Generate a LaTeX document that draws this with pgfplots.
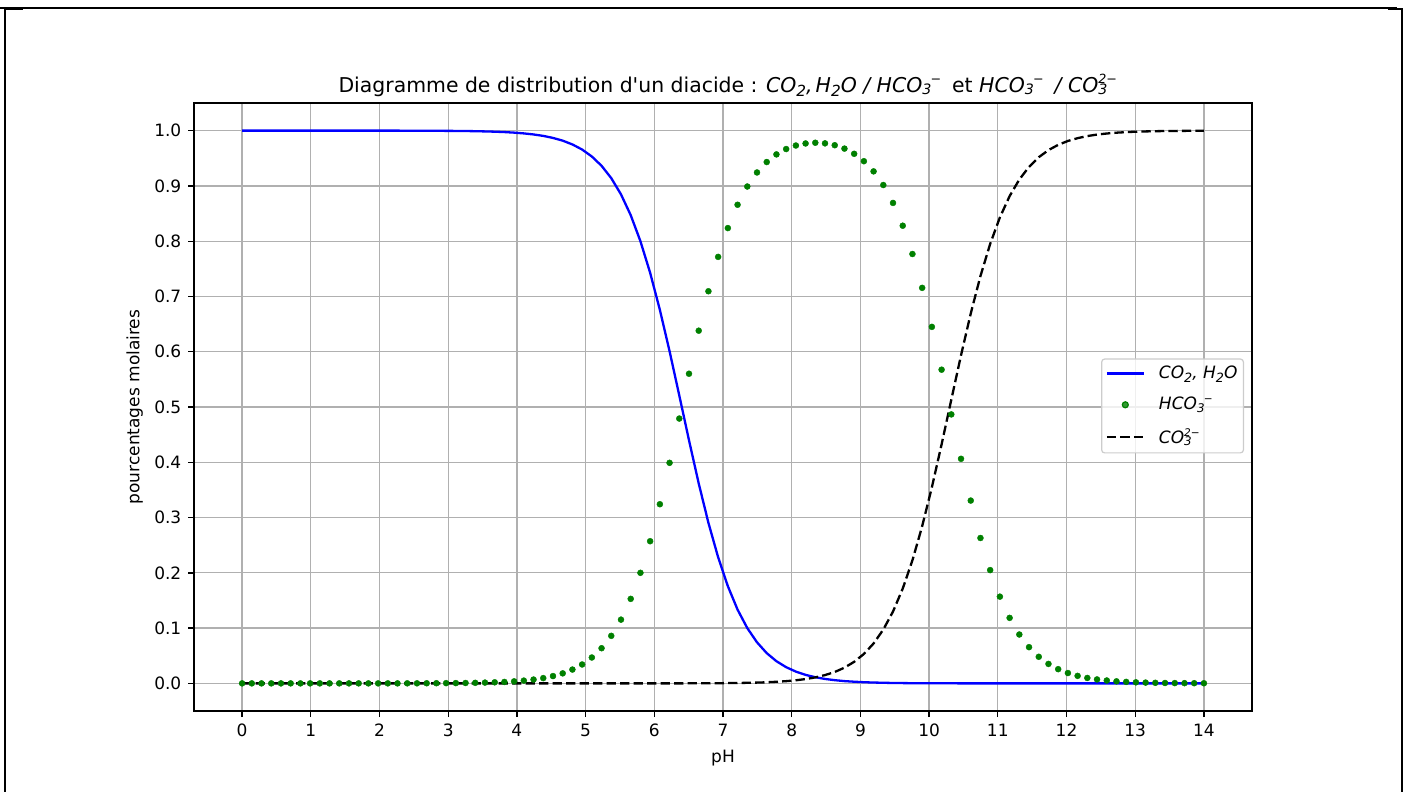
\documentclass[border=0pt]{standalone}
\usepackage{fontspec}
\setmainfont{DejaVu Sans}
\newfontfamily\plainf{DejaVu Sans}
\usepackage{graphicx}
\usepackage{pgfplots}
\usepackage{pgfplotstable}
\pgfplotsset{compat=1.18}
\definecolor{gridgray}{HTML}{B0B0B0}
\definecolor{legendgray}{HTML}{CCCCCC}
\definecolor{mplgreen}{HTML}{008000}
% mathtext-like sub- and superscripts
\newcommand\msub[1]{\raisebox{-0.24em}{\scalebox{0.75}{#1}}}
\newcommand\msubsup[3]{\rlap{\kern#3\raisebox{0.42em}{\scalebox{0.62}{#2}}}\raisebox{-0.14em}{\scalebox{0.7}{#1}}}
\pgfplotsset{
  mylineleg/.style={legend image code/.code={\draw[##1] (0pt,0pt) -- (37pt,0pt); \path (49pt,0pt);}},
  mymarkleg/.style={legend image code/.code={\draw[mark repeat=2, mark phase=2, ##1] plot coordinates {(0pt,0pt) (18.5pt,0pt) (37pt,0pt)}; \path (49pt,0pt);}},
}

\pgfplotstableread{
x a0 a1 a2
0.0000 1.0000 0.0000 0.0000
0.1414 1.0000 0.0000 0.0000
0.2828 1.0000 0.0000 0.0000
0.4242 1.0000 0.0000 0.0000
0.5657 1.0000 0.0000 0.0000
0.7071 1.0000 0.0000 0.0000
0.8485 1.0000 0.0000 0.0000
0.9899 1.0000 0.0000 0.0000
1.1313 1.0000 0.0000 0.0000
1.2727 1.0000 0.0000 0.0000
1.4141 1.0000 0.0000 0.0000
1.5556 1.0000 0.0000 0.0000
1.6970 1.0000 0.0000 0.0000
1.8384 1.0000 0.0000 0.0000
1.9798 1.0000 0.0000 0.0000
2.1212 1.0000 0.0000 0.0000
2.2626 1.0000 0.0000 0.0000
2.4040 0.9999 0.0001 0.0000
2.5455 0.9999 0.0001 0.0000
2.6869 0.9998 0.0002 0.0000
2.8283 0.9997 0.0003 0.0000
2.9697 0.9996 0.0004 0.0000
3.1111 0.9995 0.0005 0.0000
3.2525 0.9993 0.0007 0.0000
3.3939 0.9990 0.0010 0.0000
3.5354 0.9986 0.0014 0.0000
3.6768 0.9981 0.0019 0.0000
3.8182 0.9974 0.0026 0.0000
3.9596 0.9964 0.0036 0.0000
4.1010 0.9950 0.0050 0.0000
4.2424 0.9931 0.0069 0.0000
4.3838 0.9905 0.0095 0.0000
4.5253 0.9868 0.0132 0.0000
4.6667 0.9819 0.0181 0.0000
4.8081 0.9750 0.0250 0.0000
4.9495 0.9658 0.0342 0.0000
5.0909 0.9532 0.0468 0.0000
5.2323 0.9364 0.0636 0.0000
5.3737 0.9140 0.0860 0.0000
5.5152 0.8847 0.1153 0.0000
5.6566 0.8471 0.1529 0.0000
5.7980 0.8000 0.2000 0.0000
5.9394 0.7428 0.2572 0.0000
6.0808 0.6759 0.3241 0.0000
6.2222 0.6010 0.3990 0.0000
6.3636 0.5209 0.4791 0.0000
6.5051 0.4398 0.5602 0.0001
6.6465 0.3617 0.6381 0.0001
6.7879 0.2904 0.7094 0.0002
6.9293 0.2281 0.7716 0.0003
7.0707 0.1758 0.8237 0.0005
7.2121 0.1334 0.8659 0.0007
7.3535 0.1000 0.8989 0.0010
7.4949 0.0743 0.9243 0.0014
7.6364 0.0547 0.9432 0.0020
7.7778 0.0401 0.9570 0.0029
7.9192 0.0293 0.9667 0.0040
8.0606 0.0213 0.9731 0.0056
8.2020 0.0154 0.9768 0.0078
8.3434 0.0111 0.9781 0.0108
8.4848 0.0080 0.9770 0.0150
8.6263 0.0058 0.9736 0.0206
8.7677 0.0041 0.9675 0.0284
8.9091 0.0030 0.9581 0.0390
9.0505 0.0021 0.9447 0.0532
9.1919 0.0015 0.9263 0.0722
9.3333 0.0011 0.9016 0.0973
9.4747 0.0007 0.8692 0.1300
9.6162 0.0005 0.8280 0.1715
9.7576 0.0003 0.7768 0.2228
9.8990 0.0002 0.7156 0.2842
10.0404 0.0001 0.6450 0.3548
10.1818 0.0001 0.5675 0.4324
10.3232 0.0001 0.4866 0.5133
10.4646 0.0000 0.4063 0.5936
10.6061 0.0000 0.3307 0.6692
10.7475 0.0000 0.2630 0.7370
10.8889 0.0000 0.2049 0.7951
11.0303 0.0000 0.1569 0.8431
11.1717 0.0000 0.1185 0.8815
11.3131 0.0000 0.0884 0.9116
11.4545 0.0000 0.0655 0.9345
11.5960 0.0000 0.0481 0.9519
11.7374 0.0000 0.0352 0.9648
11.8788 0.0000 0.0257 0.9743
12.0202 0.0000 0.0187 0.9813
12.1616 0.0000 0.0136 0.9864
12.3030 0.0000 0.0098 0.9902
12.4444 0.0000 0.0071 0.9929
12.5859 0.0000 0.0052 0.9948
12.7273 0.0000 0.0037 0.9963
12.8687 0.0000 0.0027 0.9973
13.0101 0.0000 0.0019 0.9981
13.1515 0.0000 0.0014 0.9986
13.2929 0.0000 0.0010 0.9990
13.4343 0.0000 0.0007 0.9993
13.5758 0.0000 0.0005 0.9995
13.7172 0.0000 0.0004 0.9996
13.8586 0.0000 0.0003 0.9997
14.0000 0.0000 0.0002 0.9998
}\datatable

\begin{document}
\fontsize{17}{20}\selectfont
\begin{tikzpicture}
\path[use as bounding box] (0pt,0pt) rectangle (1406pt,-792pt);
% outer frame
\draw[black, line width=1.2pt] (0pt,-8pt) -- (1397pt,-8pt);
\draw[black, line width=2.3pt] (5pt,-9pt) -- (5pt,-792pt);
\draw[black, line width=2pt] (4pt,-9.5pt) -- (23pt,-9.5pt);
\draw[black, line width=2.3pt] (1402pt,-9pt) -- (1402pt,-792pt);
\draw[black, line width=2pt] (1388pt,-9.5pt) -- (1403pt,-9.5pt);
\begin{axis}[
  at={(194pt,-711pt)}, anchor=south west,
  scale only axis, width=1058pt, height=608pt,
  xmin=-0.7, xmax=14.7, ymin=-0.05, ymax=1.05,
  xtick={0,1,2,3,4,5,6,7,8,9,10,11,12,13,14},
  ytick={0,0.1,0.2,0.3,0.4,0.5,0.6,0.7,0.8,0.9,1.0},
  /pgf/number format/assume math mode=true,
  yticklabel style={/pgf/number format/fixed, /pgf/number format/fixed zerofill, /pgf/number format/precision=1,
    anchor=east, inner sep=0pt, xshift=-6.5pt},
  xticklabel style={anchor=base, inner sep=0pt, yshift=-19pt},
  tick align=outside, tick pos=left,
  major tick length=6pt,
  tick style={black, line width=1.36pt},
  axis line style={black, line width=1.36pt},
  grid=major,
  major grid style={gridgray, line width=1.3pt},
  title={Diagramme de distribution d{\plainf'}un diacide : {\itshape CO\msub{2},\kern0.15em H\msub{2}O / HCO\msubsup{3}{−}{0.4em}}\kern0.7em\ et {\itshape HCO\msubsup{3}{−}{0.4em}}\kern0.7em\ {\itshape / CO\msubsup{3}{2−}{0em}}},
  title style={at={(axis description cs:0.5,1.0082)}, anchor=base, inner sep=0pt, font=\fontsize{20.4}{24}\selectfont},
  xlabel={pH},
  xlabel style={at={(axis description cs:0.5,-0.0839)}, anchor=base, inner sep=0pt},
  ylabel={pourcentages molaires},
  ylabel style={at={(axis description cs:-0.0517,0.5)}, anchor=base, inner sep=0pt},
  legend style={at={(axis description cs:0.99244,0.5017)}, anchor=east,
    draw=legendgray, line width=1.2pt, rounded corners=3pt,
    fill=white, fill opacity=0.8, text opacity=1,
    inner xsep=4pt, inner ysep=5pt, row sep=12pt,
    cells={anchor=west}},
]
\addplot[color=blue, line width=2.3pt, no marks, mylineleg]
  table[x=x, y=a0] {\datatable};
\addlegendentry{\itshape CO\msub{2}, H\msub{2}O}
\addplot[only marks, mark=*, mark size=3pt, color=mplgreen, mark options={draw=mplgreen, fill=mplgreen}, mymarkleg]
  table[x=x, y=a1] {\datatable};
\addlegendentry{\itshape HCO\msubsup{3}{−}{0.4em}}
\addplot[color=black, line width=2.3pt, no marks, dash pattern=on 9.4pt off 4.1pt, mylineleg]
  table[x=x, y=a2] {\datatable};
\addlegendentry{\itshape CO\msubsup{3}{2−}{0em}}
\end{axis}
\end{tikzpicture}
\end{document}
